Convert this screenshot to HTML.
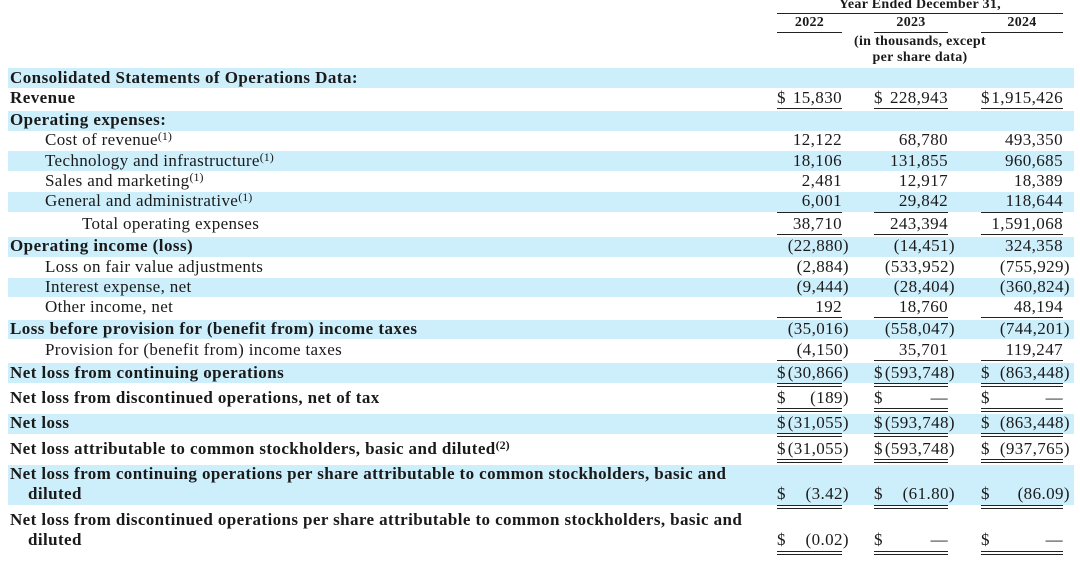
<!DOCTYPE html>
<html><head><meta charset="utf-8"><style>
*{margin:0;padding:0;box-sizing:border-box}
body{width:1080px;height:562px;background:#fff;position:relative;overflow:hidden;font-family:"Liberation Serif",serif;color:#1a1a1a}
.b{position:absolute;left:8px;width:1066px;background:#cdeefb}
.t{position:absolute;height:20px;line-height:20px;font-size:17px;letter-spacing:0.35px;white-space:nowrap}
.bd{font-weight:bold;letter-spacing:0.45px}
.c{font-weight:bold;font-size:17px;letter-spacing:0.4px}
sup{font-size:12px;vertical-align:5px;line-height:0;letter-spacing:0}
.n{position:absolute;height:20px;line-height:20px;font-size:17px;letter-spacing:0.4px;white-space:nowrap;text-align:right}
.u{position:absolute;height:1px;background:#222}
.d{position:absolute;height:4px;border-top:1.5px solid #222;border-bottom:1.5px solid #222}
.h{position:absolute;font-weight:bold;font-size:14px;letter-spacing:0.3px;text-align:center;white-space:nowrap;line-height:14px}
</style></head><body>
<div class="b" style="top:68px;height:20px"></div>
<div class="b" style="top:111px;height:20px"></div>
<div class="b" style="top:151px;height:20px"></div>
<div class="b" style="top:192px;height:20px"></div>
<div class="b" style="top:237px;height:20px"></div>
<div class="b" style="top:278px;height:19px"></div>
<div class="b" style="top:320px;height:19px"></div>
<div class="b" style="top:363px;height:20px"></div>
<div class="b" style="top:414px;height:20px"></div>
<div class="b" style="top:465px;height:40px"></div>

<div class="h" style="left:777px;width:286px;top:-2px">Year Ended December 31,</div>
<div class="u" style="left:777px;width:286px;top:13px"></div>
<div class="h" style="left:777px;width:65px;top:16px">2022</div>
<div class="h" style="left:874px;width:74px;top:16px">2023</div>
<div class="h" style="left:981px;width:82px;top:16px">2024</div>
<div class="u" style="left:777px;width:65px;top:32px"></div>
<div class="u" style="left:874px;width:74px;top:32px"></div>
<div class="u" style="left:981px;width:82px;top:32px"></div>
<div class="h" style="left:820px;width:200px;top:35px">(in thousands, except</div>
<div class="h" style="left:820px;width:200px;top:51px">per share data)</div>

<div class="t bd" style="left:10px;top:68px">Consolidated Statements of Operations Data:</div>
<div class="t bd" style="left:10px;top:88px">Revenue</div>
<div class="t bd" style="left:10px;top:110px">Operating expenses:</div>
<div class="t" style="left:45px;top:130px">Cost of revenue<sup>(1)</sup></div>
<div class="t" style="left:45px;top:151px">Technology and infrastructure<sup>(1)</sup></div>
<div class="t" style="left:45px;top:171px">Sales and marketing<sup>(1)</sup></div>
<div class="t" style="left:45px;top:191px">General and administrative<sup>(1)</sup></div>
<div class="t" style="left:82px;top:214px">Total operating expenses</div>
<div class="t bd" style="left:10px;top:236px">Operating income (loss)</div>
<div class="t" style="left:45px;top:257px">Loss on fair value adjustments</div>
<div class="t" style="left:45px;top:277px">Interest expense, net</div>
<div class="t" style="left:45px;top:297px">Other income, net</div>
<div class="t bd" style="left:10px;top:319px">Loss before provision for (benefit from) income taxes</div>
<div class="t" style="left:45px;top:340px">Provision for (benefit from) income taxes</div>
<div class="t bd" style="left:10px;top:363px">Net loss from continuing operations</div>
<div class="t c" style="left:10px;top:388px">Net loss from discontinued operations, net of tax</div>
<div class="t c" style="left:10px;top:413px">Net loss</div>
<div class="t c" style="left:10px;top:439px">Net loss attributable to common stockholders, basic and diluted<sup>(2)</sup></div>
<div class="t c" style="left:10px;top:464px">Net loss from continuing operations per share attributable to common stockholders, basic and</div>
<div class="t c" style="left:28px;top:484px">diluted</div>
<div class="t c" style="left:10px;top:510px">Net loss from discontinued operations per share attributable to common stockholders, basic and</div>
<div class="t c" style="left:28px;top:530px">diluted</div>

<div class="n" style="left:777px;top:88px">$</div><div class="n" style="right:238px;top:88px">15,830</div>
<div class="n" style="left:874px;top:88px">$</div><div class="n" style="right:132px;top:88px">228,943</div>
<div class="n" style="left:981px;top:88px">$</div><div class="n" style="right:17px;top:88px">1,915,426</div>
<div class="u" style="left:777px;width:65px;top:108px"></div><div class="u" style="left:874px;width:74px;top:108px"></div><div class="u" style="left:981px;width:82px;top:108px"></div>

<div class="n" style="right:238px;top:130px">12,122</div><div class="n" style="right:132px;top:130px">68,780</div><div class="n" style="right:17px;top:130px">493,350</div>
<div class="n" style="right:238px;top:151px">18,106</div><div class="n" style="right:132px;top:151px">131,855</div><div class="n" style="right:17px;top:151px">960,685</div>
<div class="n" style="right:238px;top:171px">2,481</div><div class="n" style="right:132px;top:171px">12,917</div><div class="n" style="right:17px;top:171px">18,389</div>
<div class="n" style="right:238px;top:191px">6,001</div><div class="n" style="right:132px;top:191px">29,842</div><div class="n" style="right:17px;top:191px">118,644</div>
<div class="u" style="left:777px;width:65px;top:212px"></div><div class="u" style="left:874px;width:74px;top:212px"></div><div class="u" style="left:981px;width:82px;top:212px"></div>
<div class="n" style="right:238px;top:214px">38,710</div><div class="n" style="right:132px;top:214px">243,394</div><div class="n" style="right:17px;top:214px">1,591,068</div>
<div class="u" style="left:777px;width:65px;top:234px"></div><div class="u" style="left:874px;width:74px;top:234px"></div><div class="u" style="left:981px;width:82px;top:234px"></div>
<div class="n" style="right:231px;top:236px">(22,880)</div><div class="n" style="right:125px;top:236px">(14,451)</div><div class="n" style="right:17px;top:236px">324,358</div>
<div class="n" style="right:231px;top:257px">(2,884)</div><div class="n" style="right:125px;top:257px">(533,952)</div><div class="n" style="right:10px;top:257px">(755,929)</div>
<div class="n" style="right:231px;top:277px">(9,444)</div><div class="n" style="right:125px;top:277px">(28,404)</div><div class="n" style="right:10px;top:277px">(360,824)</div>
<div class="n" style="right:238px;top:297px">192</div><div class="n" style="right:132px;top:297px">18,760</div><div class="n" style="right:17px;top:297px">48,194</div>
<div class="u" style="left:777px;width:65px;top:317px"></div><div class="u" style="left:874px;width:74px;top:317px"></div><div class="u" style="left:981px;width:82px;top:317px"></div>
<div class="n" style="right:231px;top:319px">(35,016)</div><div class="n" style="right:125px;top:319px">(558,047)</div><div class="n" style="right:10px;top:319px">(744,201)</div>
<div class="n" style="right:231px;top:340px">(4,150)</div><div class="n" style="right:132px;top:340px">35,701</div><div class="n" style="right:17px;top:340px">119,247</div>
<div class="u" style="left:777px;width:65px;top:360px"></div><div class="u" style="left:874px;width:74px;top:360px"></div><div class="u" style="left:981px;width:82px;top:360px"></div>

<div class="n" style="left:777px;top:363px">$</div><div class="n" style="right:231px;top:363px">(30,866)</div>
<div class="n" style="left:874px;top:363px">$</div><div class="n" style="right:125px;top:363px">(593,748)</div>
<div class="n" style="left:981px;top:363px">$</div><div class="n" style="right:10px;top:363px">(863,448)</div>
<div class="d" style="left:777px;width:65px;top:383px"></div><div class="d" style="left:874px;width:74px;top:383px"></div><div class="d" style="left:981px;width:82px;top:383px"></div>

<div class="n" style="left:777px;top:388px">$</div><div class="n" style="right:231px;top:388px">(189)</div>
<div class="n" style="left:874px;top:388px">$</div><div class="n" style="right:132px;top:388px">—</div>
<div class="n" style="left:981px;top:388px">$</div><div class="n" style="right:17px;top:388px">—</div>
<div class="d" style="left:777px;width:65px;top:408px"></div><div class="d" style="left:874px;width:74px;top:408px"></div><div class="d" style="left:981px;width:82px;top:408px"></div>

<div class="n" style="left:777px;top:413px">$</div><div class="n" style="right:231px;top:413px">(31,055)</div>
<div class="n" style="left:874px;top:413px">$</div><div class="n" style="right:125px;top:413px">(593,748)</div>
<div class="n" style="left:981px;top:413px">$</div><div class="n" style="right:10px;top:413px">(863,448)</div>
<div class="d" style="left:777px;width:65px;top:433px"></div><div class="d" style="left:874px;width:74px;top:433px"></div><div class="d" style="left:981px;width:82px;top:433px"></div>

<div class="n" style="left:777px;top:439px">$</div><div class="n" style="right:231px;top:439px">(31,055)</div>
<div class="n" style="left:874px;top:439px">$</div><div class="n" style="right:125px;top:439px">(593,748)</div>
<div class="n" style="left:981px;top:439px">$</div><div class="n" style="right:10px;top:439px">(937,765)</div>
<div class="d" style="left:777px;width:65px;top:459px"></div><div class="d" style="left:874px;width:74px;top:459px"></div><div class="d" style="left:981px;width:82px;top:459px"></div>

<div class="n" style="left:777px;top:484px">$</div><div class="n" style="right:231px;top:484px">(3.42)</div>
<div class="n" style="left:874px;top:484px">$</div><div class="n" style="right:125px;top:484px">(61.80)</div>
<div class="n" style="left:981px;top:484px">$</div><div class="n" style="right:10px;top:484px">(86.09)</div>
<div class="d" style="left:777px;width:65px;top:505px"></div><div class="d" style="left:874px;width:74px;top:505px"></div><div class="d" style="left:981px;width:82px;top:505px"></div>

<div class="n" style="left:777px;top:530px">$</div><div class="n" style="right:231px;top:530px">(0.02)</div>
<div class="n" style="left:874px;top:530px">$</div><div class="n" style="right:132px;top:530px">—</div>
<div class="n" style="left:981px;top:530px">$</div><div class="n" style="right:17px;top:530px">—</div>
<div class="d" style="left:777px;width:65px;top:551px"></div><div class="d" style="left:874px;width:74px;top:551px"></div><div class="d" style="left:981px;width:82px;top:551px"></div>
</body></html>
